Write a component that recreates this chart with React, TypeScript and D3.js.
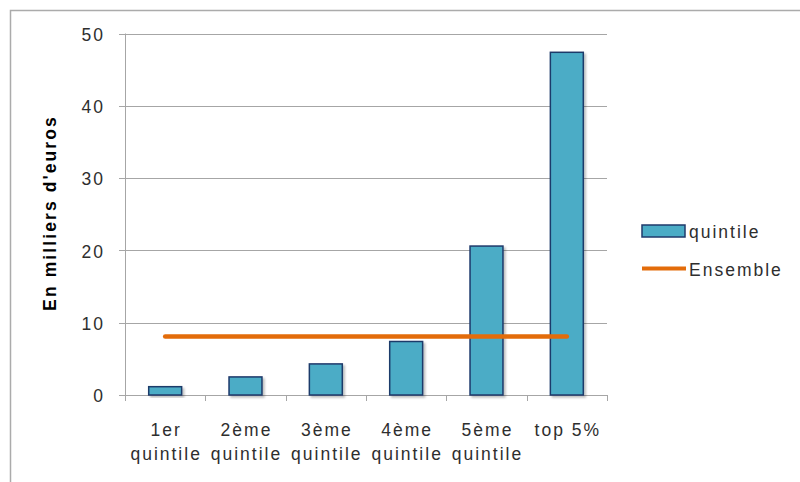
import React from "react";
import * as d3 from "d3";

const categories = ["1er\nquintile", "2ème\nquintile", "3ème\nquintile", "4ème\nquintile", "5ème\nquintile", "top 5%"];
const quintileValues = [1.15, 2.5, 4.3, 7.4, 20.6, 47.4];
const ensembleValue = 8.1;
const yTicks = [0, 10, 20, 30, 40, 50];
const seriesNames = ["quintile", "Ensemble"];

export default function App() {
  const W = 800, H = 482;
  const left = 125, right = 607, top = 33.5, bottom = 395;
  const x = d3.scaleBand<string>().domain(categories).range([left, right]).paddingInner(0.59).paddingOuter(0.295);
  const y = d3.scaleLinear().domain([0, 50]).range([bottom, top]);
  const step = (right - left) / categories.length;
  const bandEdges = categories.map((_, i) => left + i * step).concat([right]);
  const center = (c: string) => (x(c) as number) + x.bandwidth() / 2;
  const line = d3.line<[number, number]>().x(d => d[0]).y(d => d[1]);
  const font = "Arial, 'Liberation Sans', sans-serif";
  const txt = "#2e2e2e";
  const fs = 17.5;
  const ls = 2;

  return (
    <svg width={W} height={H} style={{ position: "absolute", left: 0, top: 0, background: "#fff" }}>
      <defs>
        <filter id="sh" x="-20%" y="-20%" width="150%" height="150%">
          <feDropShadow dx="2" dy="2" stdDeviation="1.2" floodColor="#000" floodOpacity="0.25" />
        </filter>
      </defs>
      <rect x={0} y={0} width={W} height={H} fill="#fff" />
      <path d={`M10.5,${H} L10.5,10.5 L${W},10.5`} fill="none" stroke="#ababab" strokeWidth={1.5} />
      {yTicks.map(t => (
        <g key={t}>
          {t > 0 && <line x1={left} x2={right} y1={Math.round(y(t)) + 0.5} y2={Math.round(y(t)) + 0.5} stroke="#a6a6a6" strokeWidth={1} />}
          <line x1={left - 6} x2={left} y1={Math.round(y(t)) + 0.5} y2={Math.round(y(t)) + 0.5} stroke="#a6a6a6" />
          <text x={103 + ls} y={y(t) + 1} dy="0.35em" textAnchor="end" fontFamily={font} fontSize={fs} letterSpacing={ls} fill={txt}>{t}</text>
        </g>
      ))}
      <line x1={left + 0.5} x2={left + 0.5} y1={top} y2={bottom} stroke="#a6a6a6" />
      <line x1={left} x2={right} y1={bottom + 0.5} y2={bottom + 0.5} stroke="#a6a6a6" />
      {bandEdges.map((e, i) => (
        <line key={i} x1={Math.round(e) + 0.5} x2={Math.round(e) + 0.5} y1={bottom} y2={bottom + 6} stroke="#a6a6a6" />
      ))}
      {categories.map((c, i) => (
        <rect key={c} x={x(c)} y={y(quintileValues[i])} width={x.bandwidth()} height={bottom - y(quintileValues[i])}
          fill="#4bacc6" stroke="#1f3a6b" strokeWidth={1.5} filter="url(#sh)" />
      ))}
      <path d={line([[center(categories[0]), y(ensembleValue)], [center(categories[categories.length - 1]), y(ensembleValue)]]) || ""}
        stroke="#e36c0a" strokeWidth={4.5} strokeLinecap="round" fill="none" />
      {categories.map(c => {
        const lines = c.split("\n");
        const cx = center(c) + ls / 2;
        return (
          <text key={c} x={cx} y={436} textAnchor="middle" fontFamily={font} fontSize={fs} letterSpacing={ls} fill={txt}>
            {lines.map((l, j) => <tspan key={j} x={cx} dy={j === 0 ? 0 : 24}>{l}</tspan>)}
          </text>
        );
      })}
      <text transform={`translate(56,213) rotate(-90)`} textAnchor="middle" fontFamily={font} fontSize={17.5} letterSpacing={2.1} fontWeight="bold" fill="#000">En milliers d'euros</text>
      <rect x={642} y={225} width={43} height={12} fill="#4bacc6" stroke="#1f3a6b" strokeWidth={1.5} />
      <text x={689} y={238} fontFamily={font} fontSize={fs} letterSpacing={ls} fill={txt}>{seriesNames[0]}</text>
      <line x1={642} x2={686} y1={268.5} y2={268.5} stroke="#e36c0a" strokeWidth={4} />
      <text x={689} y={276} fontFamily={font} fontSize={fs} letterSpacing={ls} fill={txt}>{seriesNames[1]}</text>
    </svg>
  );
}
